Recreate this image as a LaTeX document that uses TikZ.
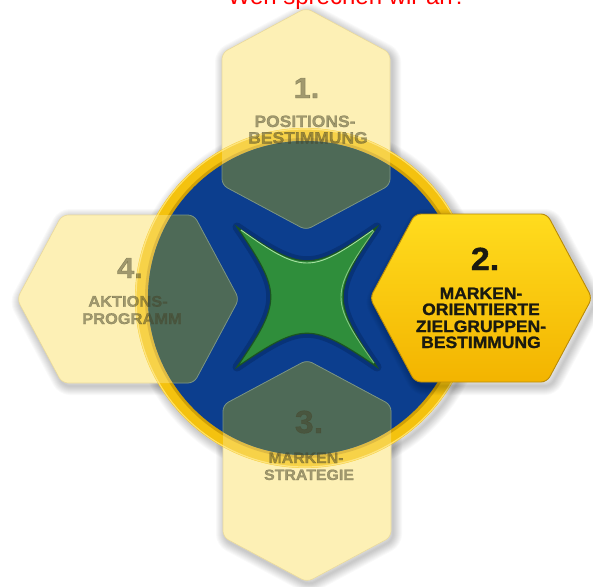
\documentclass[tikz,border=0pt]{standalone}
\usepackage{fontspec}
\newfontfamily\lsans{Liberation Sans}
\newfontfamily\hv{Liberation Sans}[FakeStretch=1.06,FakeBold=1.3]
\definecolor{pale}{HTML}{FDF0B5}
\definecolor{paleedge}{HTML}{EADA9C}
\definecolor{overlay}{HTML}{4E6A57}
\definecolor{overedge}{HTML}{7A9482}
\definecolor{ring}{HTML}{F4C20F}
\definecolor{ringdark}{HTML}{B98A00}
\definecolor{ringhi}{HTML}{FFE066}
\definecolor{discblue}{HTML}{0C3E8E}
\definecolor{deepblue}{HTML}{062A66}
\definecolor{stargreen}{HTML}{2F8E3B}
\definecolor{stardark}{HTML}{1B5323}
\definecolor{starhi}{HTML}{A6E0A0}
\definecolor{goldA}{HTML}{FFDC1E}
\definecolor{goldB}{HTML}{F3B400}
\definecolor{goldedge}{HTML}{B88A08}
\definecolor{gtext}{RGB}{70,68,40}
\definecolor{dtext}{HTML}{1A1A10}
\newcommand\hexH{(-111,0) -- (-66,-84) -- (66,-84) -- (111,0) -- (66,84) -- (-66,84) -- cycle}
\newcommand\hexV{(0,-111) -- (84,-66) -- (84,66) -- (0,111) -- (-84,66) -- (-84,-66) -- cycle}
\newcommand\starpath{(-70,-70) .. controls (-4,-25) and (4,-25) .. (70,-70) .. controls (25,-4) and (25,4) .. (70,70) .. controls (4,25) and (-4,25) .. (-70,70) .. controls (-25,4) and (-25,-4) .. (-70,-70) -- cycle}
\tikzset{
  hexround/.style={rounded corners=6},
  glow/.style={draw=black, draw opacity=0.022},
  ghost/.style={text=gtext, text opacity=0.5},
  numA/.style={anchor=base, inner sep=0, font=\hv\bfseries\fontsize{29}{30}\selectfont},
  numB/.style={anchor=base, inner sep=0, font=\hv\bfseries\fontsize{32}{33}\selectfont},
  lblA/.style={anchor=base, inner sep=0, font=\hv\bfseries\fontsize{16.5}{18}\selectfont},
  lblB/.style={anchor=base, inner sep=0, font=\hv\bfseries\fontsize{15.5}{17}\selectfont},
  lblC/.style={anchor=base, inner sep=0, font=\hv\bfseries\fontsize{15}{17}\selectfont},
}
\begin{document}
\begin{tikzpicture}[x=1pt,y=-1pt]
\clip (0,0) rectangle (593,586);
\fill[white] (0,0) rectangle (593,586);

% title (cut off at the top, as in the reference)
\node[anchor=base, inner sep=0, text=red, font=\lsans\fontsize{24}{28}\selectfont] (title) at (347,5) {Wen sprechen wir an?};

% soft shadows
\foreach \w in {2,4,...,18} {
  \draw[glow, line width=\w pt, hexround, shift={(308,122)}] \hexV;
  \draw[glow, line width=\w pt, hexround, shift={(309,474)}] \hexV;
  \draw[glow, line width=\w pt, hexround, shift={(130,302)}] \hexH;
  \draw[glow, line width=\w pt] (308,301) circle (170);
}

% pale hexagons 1, 3, 4
\path[fill=pale, draw=paleedge, line width=0.6, hexround, shift={(306,119)}] \hexV;
\path[fill=pale, draw=paleedge, line width=0.6, hexround, shift={(307,471)}] \hexV;
\path[fill=pale, draw=paleedge, line width=0.6, hexround, shift={(128,299)}] \hexH;

% central disc
\fill[ring] (305,298) circle (170);
\draw[ringhi, line width=1.2] (305,298) circle (169);
\draw[ringdark, line width=3, draw opacity=0.6] (305,298) circle (158.5);
\fill[discblue] (305,298) circle (157);

% star
\begin{scope}[shift={(307,297)}]
  \draw[deepblue, line width=9, draw opacity=0.55, line join=round] \starpath;
  \path[fill=stargreen, draw=stardark, line width=1.2] \starpath;
  \draw[starhi, line width=0.9] (-66,-67) .. controls (-4,-23) and (4,-23) .. (66,-67);
  \draw[starhi, line width=0.9, draw opacity=0.7] (67,-66) .. controls (23,-4) and (23,4) .. (67,66);
\end{scope}

% translucent hexagons over the disc
\begin{scope}
  \clip (305,298) circle (170);
  \fill[pale, opacity=0.35, hexround, shift={(306,119)}] \hexV;
  \fill[pale, opacity=0.35, hexround, shift={(307,471)}] \hexV;
  \fill[pale, opacity=0.35, hexround, shift={(128,299)}] \hexH;
\end{scope}
\begin{scope}
  \clip (305,298) circle (157);
  \path[fill=overlay, draw=overedge, line width=0.8, hexround, shift={(306,119)}] \hexV;
  \path[fill=overlay, draw=overedge, line width=0.8, hexround, shift={(307,471)}] \hexV;
  \path[fill=overlay, draw=overedge, line width=0.8, hexround, shift={(128,299)}] \hexH;
\end{scope}

% highlighted hexagon 2
\foreach \w in {2,4,...,18} {
  \draw[glow, line width=\w pt, hexround, shift={(485,302)}] \hexH;
}
\path[top color=goldA, bottom color=goldB, draw=goldedge, line width=0.9, hexround, shift={(481,298)}] \hexH;

% texts
\node[numA, ghost] (n1) at (306.5,98) {1.};
\node[lblA, ghost] (l1a) at (305,127) {POSITIONS-};
\node[lblA, ghost] (l1b) at (308,143.5) {BESTIMMUNG};

\node[numB, text=dtext] (n2) at (485,270) {2.};
\node[lblA, text=dtext] (l2a) at (481,299) {MARKEN-};
\node[lblA, text=dtext] (l2b) at (481,315) {ORIENTIERTE};
\node[lblA, text=dtext] (l2c) at (481,332) {ZIELGRUPPEN-};
\node[lblA, text=dtext] (l2d) at (481,348) {BESTIMMUNG};

\node[numB, ghost] (n3) at (309,433) {3.};
\node[lblC, ghost] (l3a) at (306,463) {MARKEN-};
\node[lblC, ghost] (l3b) at (309,480) {STRATEGIE};

\node[numA, ghost] (n4) at (130,278) {4.};
\node[lblB, ghost] (l4a) at (128,306.7) {AKTIONS-};
\node[lblB, ghost] (l4b) at (132,324) {PROGRAMM};
\end{tikzpicture}
\end{document}
